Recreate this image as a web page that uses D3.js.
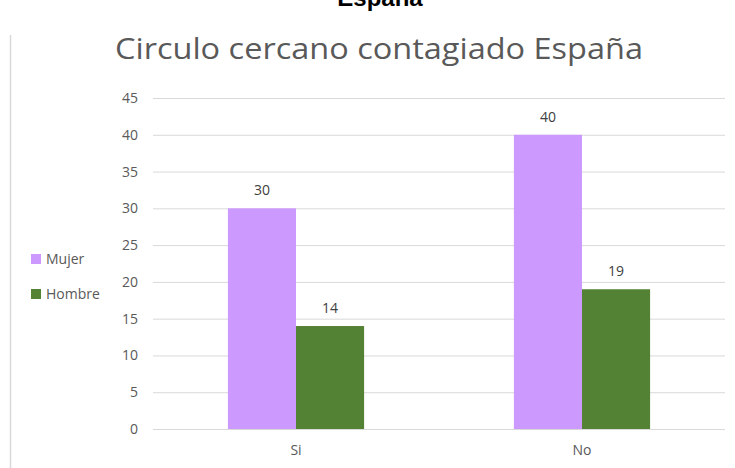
<!DOCTYPE html>
<html lang="es">
  <head>
    <meta charset="utf-8"/>
    <title>Circulo cercano contagiado España</title>
    <style>
      body { margin: 0; background: #fff; }
      svg { display: block; }
      text { font-family: "Open Sans", "Noto Sans", sans-serif; }
    </style>
  </head>
  <body>
    <svg id="chart"></svg>

    <script src="https://cdn.jsdelivr.net/npm/d3@7"></script>
    <script type="text/javascript">
      const width = 735;
      const height = 468;

      // data
      const categories = ["Si", "No"];
      const series = ["Mujer", "Hombre"];
      const mujer = [30, 40];
      const hombre = [14, 19];
      const yTicks = [0, 5, 10, 15, 20, 25, 30, 35, 40, 45];
      const colors = ["#cc99ff", "#548235"];

      const svg = d3.select("#chart")
        .attr("width", width)
        .attr("height", height);

      // page heading cut at the top
      svg.append("text")
        .attr("x", 380)
        .attr("y", 6)
        .attr("text-anchor", "middle")
        .style("font-family", "'Liberation Sans', Arial, sans-serif")
        .style("font-weight", "bold")
        .style("font-size", "24px")
        .style("fill", "#000")
        .text("España");

      // left border of the chart box
      svg.append("line")
        .attr("x1", 10.5).attr("x2", 10.5)
        .attr("y1", 35).attr("y2", height)
        .attr("stroke", "#d9d9d9")
        .attr("stroke-width", 1.5);

      svg.append("text")
        .attr("x", 379)
        .attr("y", 59)
        .attr("text-anchor", "middle")
        .attr("textLength", 528)
        .attr("lengthAdjust", "spacingAndGlyphs")
        .style("font-size", "29px")
        .style("fill", "#595959")
        .text("Circulo cercano contagiado España");

      const x0 = d3.scaleBand().domain(categories).range([153, 725]);
      const x1 = d3.scaleBand().domain(series)
        .range([0, x0.bandwidth()])
        .paddingInner(0)
        .paddingOuter(1.1);
      const y = d3.scaleLinear().domain([0, 45]).range([429, 98]);

      // grid + y labels
      const yAxis = svg.append("g")
        .attr("transform", "translate(153,0)")
        .call(d3.axisLeft(y).tickValues(yTicks).tickSize(-(725 - 153)).tickPadding(15));
      yAxis.select(".domain").remove();
      yAxis.selectAll(".tick line").attr("stroke", "#d9d9d9").attr("stroke-width", 1);
      yAxis.selectAll(".tick text")
        .style("font-size", "14px")
        .style("fill", "#595959")
        .style("font-family", "'Open Sans', sans-serif");

      // x labels
      const xAxis = svg.append("g")
        .attr("transform", "translate(0,429)")
        .call(d3.axisBottom(x0).tickSize(0).tickPadding(16));
      xAxis.select(".domain").remove();
      xAxis.selectAll(".tick text")
        .style("font-size", "14px")
        .style("fill", "#595959")
        .style("font-family", "'Open Sans', sans-serif");

      const rows = categories.map(function(c, i) {
        return { cat: c, values: [mujer[i], hombre[i]] };
      });

      const groups = svg.selectAll(".grp")
        .data(rows)
        .enter().append("g")
        .attr("class", "grp")
        .attr("transform", function(d) { return "translate(" + x0(d.cat) + ",0)"; });

      groups.selectAll("rect")
        .data(function(d) { return d.values.map(function(v, j) { return { s: series[j], v: v, j: j }; }); })
        .enter().append("rect")
        .attr("x", function(d) { return x1(d.s); })
        .attr("y", function(d) { return y(d.v); })
        .attr("width", x1.bandwidth())
        .attr("height", function(d) { return y(0) - y(d.v); })
        .attr("fill", function(d) { return colors[d.j]; });

      groups.selectAll(".lbl")
        .data(function(d) { return d.values.map(function(v, j) { return { s: series[j], v: v }; }); })
        .enter().append("text")
        .attr("class", "lbl")
        .attr("x", function(d) { return x1(d.s) + x1.bandwidth() / 2; })
        .attr("y", function(d) { return y(d.v) - 13; })
        .attr("text-anchor", "middle")
        .style("font-size", "14px")
        .style("fill", "#404040")
        .text(function(d) { return d.v; });

      // legend
      const legend = svg.selectAll(".leg")
        .data(series)
        .enter().append("g")
        .attr("class", "leg")
        .attr("transform", function(d, i) { return "translate(31," + (254 + i * 35) + ")"; });
      legend.append("rect")
        .attr("width", 10).attr("height", 10)
        .attr("fill", function(d, i) { return colors[i]; });
      legend.append("text")
        .attr("x", 15)
        .attr("y", 10)
        .style("font-size", "14px")
        .style("fill", "#595959")
        .text(function(d) { return d; });
    </script>
  </body>
</html>
